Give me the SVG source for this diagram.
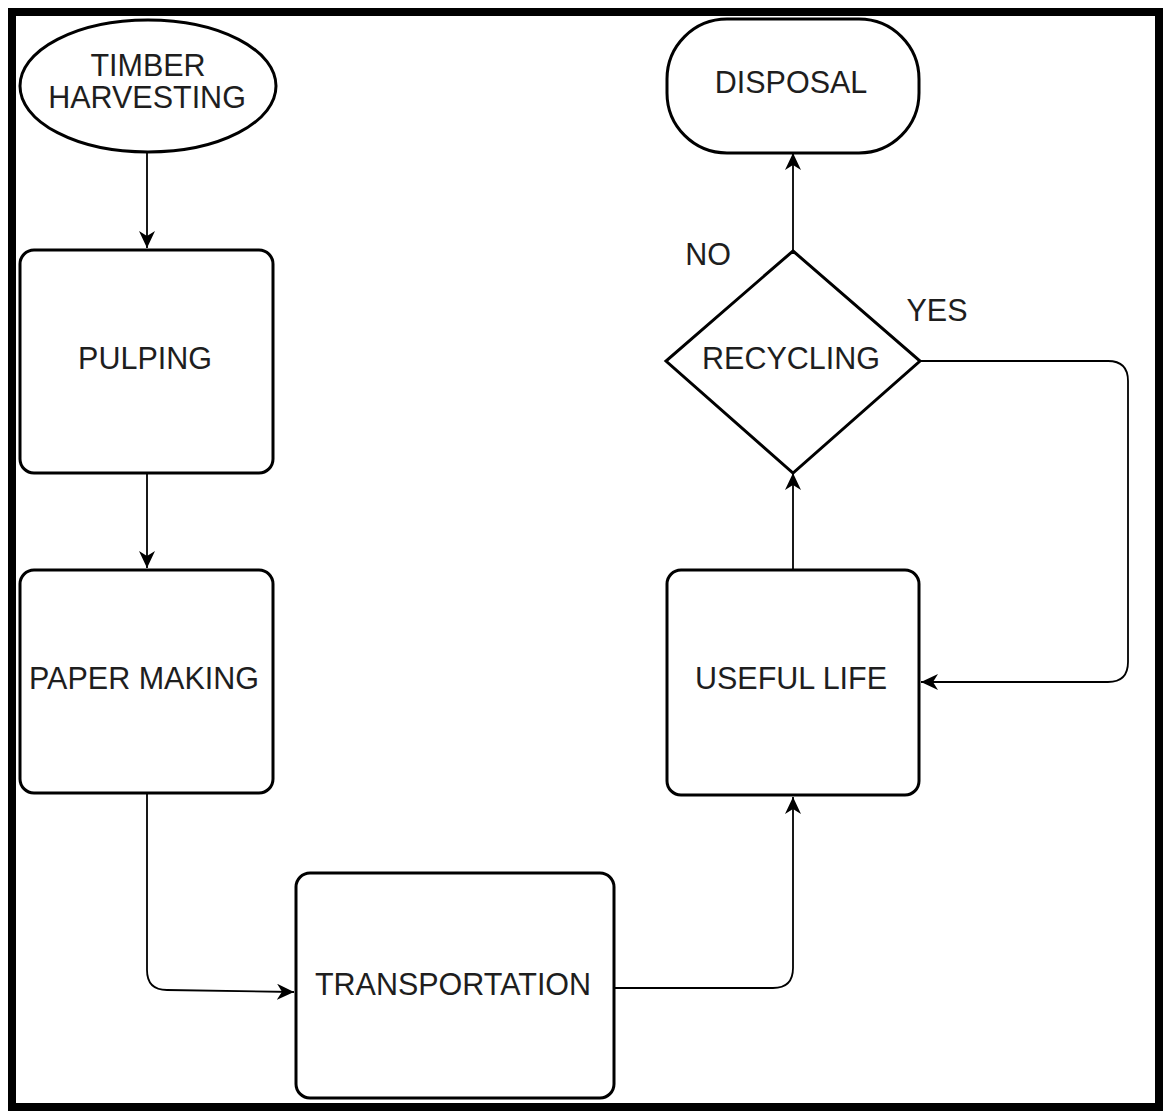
<svg xmlns="http://www.w3.org/2000/svg" width="1168" height="1111" viewBox="0 0 1168 1111">
<style>
.node{fill:#fff;stroke:#000;stroke-width:3}
.lbl{font-family:"Liberation Sans",Arial,sans-serif;font-size:30.5px;fill:#1e1e1e;text-anchor:middle}
.edge{fill:none;stroke:#000;stroke-width:1.8}
</style>
<defs>
<marker id="arr" markerUnits="userSpaceOnUse" markerWidth="18" markerHeight="16" viewBox="0 0 18 16" refX="17" refY="8" orient="auto">
<path d="M0,0 L17,8 L0,16 L5,8 Z" fill="#000"/>
</marker>
</defs>
<rect x="0" y="0" width="1168" height="1111" fill="#fff"/>
<rect x="12" y="12" width="1147" height="1095" fill="none" stroke="#000" stroke-width="8"/>
<g id="connectors">
<path class="edge" d="M147,153 V248" marker-end="url(#arr)"/>
<path class="edge" d="M147,473 V568" marker-end="url(#arr)"/>
<path class="edge" d="M147,793 V970 Q147,990 167,990 L294,992" marker-end="url(#arr)"/>
<path class="edge" d="M614,988 H773 Q793,988 793,968 V797" marker-end="url(#arr)"/>
<path class="edge" d="M793,570 V473" marker-end="url(#arr)"/>
<path class="edge" d="M793,251 V153" marker-end="url(#arr)"/>
<path class="edge" d="M920,361 H1108 Q1128,361 1128,381 V662 Q1128,682 1108,682 H921" marker-end="url(#arr)"/>
</g>
<g id="timber">
<ellipse class="node" cx="148" cy="86" rx="128" ry="66"/>
<text class="lbl" x="148" y="76">TIMBER</text>
<text class="lbl" x="147" y="108">HARVESTING</text>
</g>
<g id="pulping">
<rect class="node" x="20" y="250" width="253" height="223" rx="14"/>
<text class="lbl" x="145" y="369">PULPING</text>
</g>
<g id="papermaking">
<rect class="node" x="20" y="570" width="253" height="223" rx="14"/>
<text class="lbl" x="144" y="689">PAPER MAKING</text>
</g>
<g id="transportation">
<rect class="node" x="296" y="873" width="318" height="225" rx="14"/>
<text class="lbl" x="453" y="995">TRANSPORTATION</text>
</g>
<g id="usefullife">
<rect class="node" x="667" y="570" width="252" height="225" rx="14"/>
<text class="lbl" x="791" y="689">USEFUL LIFE</text>
</g>
<g id="recycling">
<polygon class="node" points="793,251 920,361 793,473 666,361"/>
<text class="lbl" x="791" y="369">RECYCLING</text>
</g>
<g id="disposal">
<rect class="node" x="667" y="19" width="252" height="134" rx="60" ry="60"/>
<text class="lbl" x="791" y="93">DISPOSAL</text>
</g>
<g id="labels">
<text class="lbl" x="708" y="265">NO</text>
<text class="lbl" x="937" y="321">YES</text>
</g>
</svg>
